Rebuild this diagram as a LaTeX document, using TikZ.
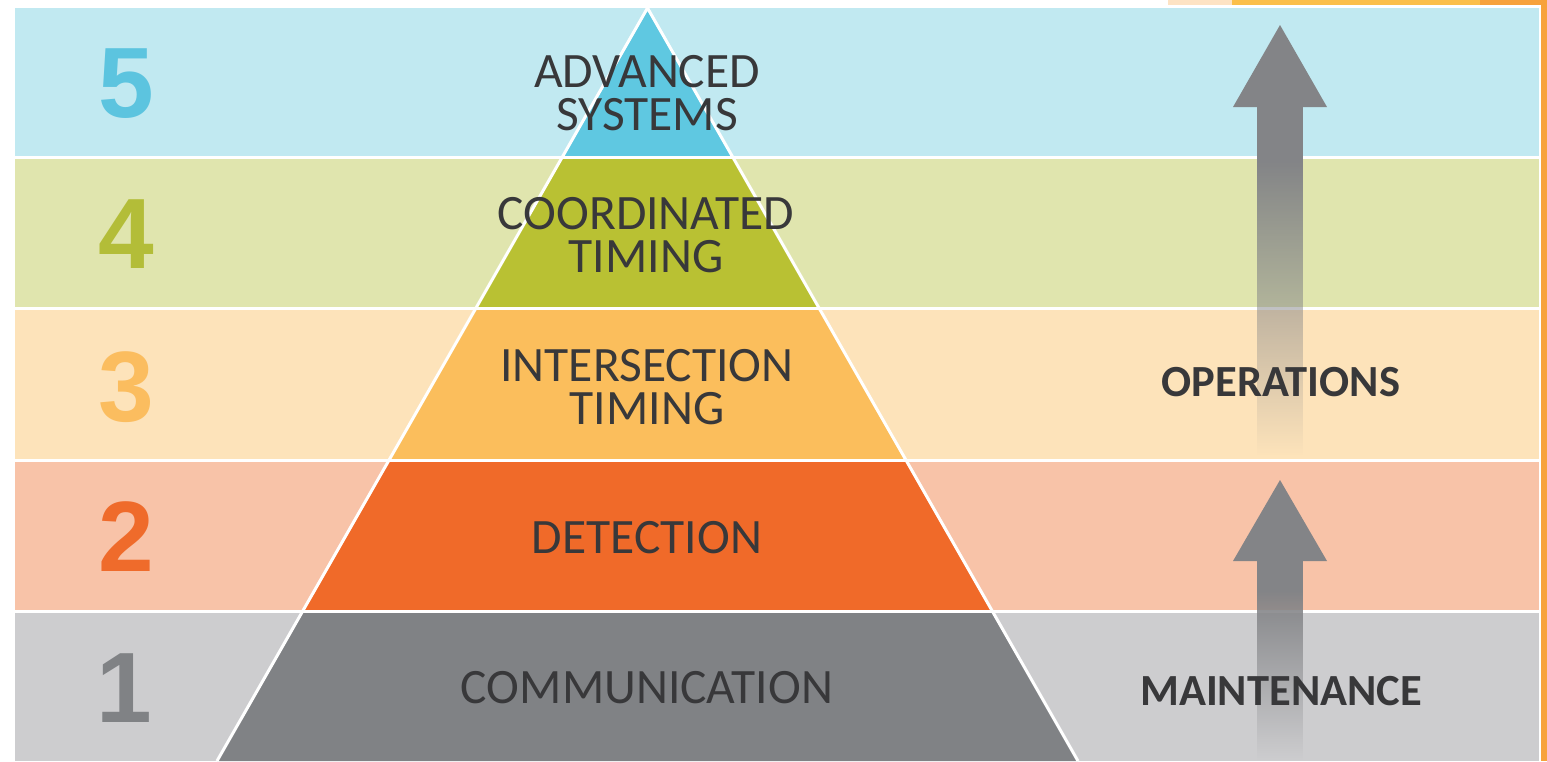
\documentclass[tikz,border=0pt]{standalone}
\usepackage{fontspec}
\setmainfont{Carlito}
\newfontfamily\numfont{Liberation Sans}
\definecolor{bandA}{HTML}{CDCDCF}
\definecolor{bandB}{HTML}{F8C3A8}
\definecolor{bandC}{HTML}{FDE3BA}
\definecolor{bandD}{HTML}{E0E5AE}
\definecolor{bandE}{HTML}{C1E9F1}
\definecolor{pyrA}{HTML}{808285}
\definecolor{pyrB}{HTML}{F06A29}
\definecolor{pyrC}{HTML}{FBBE5C}
\definecolor{pyrD}{HTML}{B9C133}
\definecolor{pyrE}{HTML}{5FC8E1}
\definecolor{numA}{HTML}{808285}
\definecolor{numB}{HTML}{EF6B2B}
\definecolor{numC}{HTML}{FBBD5F}
\definecolor{numD}{HTML}{B3BD38}
\definecolor{numE}{HTML}{5CC4DF}
\definecolor{txt}{HTML}{38383A}
\definecolor{arrowgray}{HTML}{838487}
\definecolor{stripO}{HTML}{F7A23C}
\definecolor{stripY}{HTML}{FBBF4A}
\definecolor{stripP}{HTML}{FDE3C4}
\tikzset{
  numeral/.style={font=\numfont\bfseries\fontsize{100}{100}\selectfont, inner sep=0pt},
  layerlabel/.style={font=\fontsize{49.5}{43}\selectfont, text=txt, align=center, inner sep=0pt},
  sidelabel/.style={font=\bfseries\fontsize{44.5}{44}\selectfont, text=txt, inner sep=0pt},
  sep/.style={white, line width=3pt},
  head/.style={fill=arrowgray}
}
\begin{document}
\begin{tikzpicture}[x=1pt,y=-1pt]
\useasboundingbox (0,0) rectangle (1547,761);
\fill[white] (0,0) rectangle (1547,761);
% decorative strips
\fill[stripP] (1168,0) rectangle (1232,5);
\fill[stripY] (1232,0) rectangle (1480,5);
\fill[stripO] (1480,0) rectangle (1547,5);
\fill[stripO] (1541,0) rectangle (1547,761);
% bands
\fill[bandE] (15,8) rectangle (1539,158);
\fill[bandD] (15,158) rectangle (1539,309);
\fill[bandC] (15,309) rectangle (1539,461);
\fill[bandB] (15,461) rectangle (1539,612);
\fill[bandA] (15,612) rectangle (1539,761);
% pyramid
\coordinate (apex) at (647.5,8);
\coordinate (bl) at (217,761);
\coordinate (br) at (1078,761);
\foreach \ya/\yb/\c in {8/158/pyrE,158/309/pyrD,309/461/pyrC,461/612/pyrB,612/761/pyrA}{
  \begin{scope}
    \clip (15,\ya) rectangle (1539,\yb);
    \fill[\c] (apex) -- (bl) -- (br) -- cycle;
  \end{scope}
}
% separators
\foreach \y in {157.5,308.5,460.5,611.5}{
  \draw[sep] (15,\y) -- (1539,\y);
}
\draw[sep] (bl) -- (apex) -- (br);
\draw[white, line width=2pt] (1539.5,8) -- (1539.5,761);
% arrow shafts, fading downwards
\foreach \y in {107,...,454}{
  \pgfmathsetmacro\a{min(1,max(0,(455-\y)/295))}
  \fill[arrowgray, opacity=\a] (1257,\y) rectangle (1303,\y+1);
}
\foreach \y in {561,...,760}{
  \pgfmathsetmacro\a{min(1,max(0,(760-\y)/170))}
  \fill[arrowgray, opacity=\a] (1257,\y) rectangle (1303,\y+1);
}
% arrow heads
\fill[head] (1280,25) -- (1327,107) -- (1233,107) -- cycle;
\fill[head] (1280,480) -- (1327,561) -- (1233,561) -- cycle;
% numerals
\node[numeral, text=numE] (n5) at (126,84) {5};
\node[numeral, text=numD] (n4) at (126,234) {4};
\node[numeral, text=numC] (n3) at (126,387) {3};
\node[numeral, text=numB] (n2) at (126,537) {2};
\node[numeral, text=numA] (n1) at (124,688) {1};
% layer labels
\node[layerlabel] (l5) at (647,93) {ADVANCED\\SYSTEMS};
\node[layerlabel] (l4) at (646,235) {COORDINATED\\TIMING};
\node[layerlabel] (l3) at (647,387) {INTERSECTION\\TIMING};
\node[layerlabel] (l2) at (647,537.5) {DETECTION};
\node[layerlabel] (l1) at (647,687.5) {COMMUNICATION};
% side labels
\node[sidelabel] (op) at (1281,382) {OPERATIONS};
\node[sidelabel] (mt) at (1281,691) {MAINTENANCE};
\end{tikzpicture}
\end{document}
